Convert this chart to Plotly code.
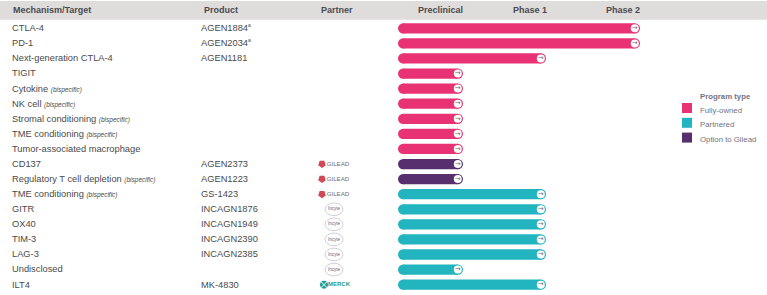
import plotly.graph_objects as go

mechanisms = ["CTLA-4", "PD-1", "Next-generation CTLA-4", "TIGIT", "Cytokine", "NK cell",
              "Stromal conditioning", "TME conditioning", "Tumor-associated macrophage", "CD137",
              "Regulatory T cell depletion", "TME conditioning", "GITR", "OX40", "TIM-3", "LAG-3",
              "Undisclosed", "ILT4"]
bispecific = [False, False, False, False, True, True, True, True, False, False,
              True, True, False, False, False, False, False, False]
products = ["AGEN1884", "AGEN2034", "AGEN1181", "", "", "", "", "", "",
            "AGEN2373", "AGEN1223", "GS-1423", "INCAGN1876", "INCAGN1949", "INCAGN2390",
            "INCAGN2385", "", "MK-4830"]
footnoted = ["AGEN1884", "AGEN2034"]
partners = ["", "", "", "", "", "", "", "", "", "GILEAD", "GILEAD", "GILEAD", "Incyte", "Incyte",
            "Incyte", "Incyte", "Incyte", "MERCK"]
program_types = ["Fully-owned"] * 9 + ["Option to Gilead"] * 2 + ["Partnered"] * 7
progress = [242, 242, 148, 65, 65, 65, 65, 65, 65, 65, 65, 148, 148, 148, 148, 148, 65, 148]
legend_order = ["Fully-owned", "Partnered", "Option to Gilead"]
colors = {"Fully-owned": "#E83274", "Partnered": "#22B5BF", "Option to Gilead": "#572F6E"}

W, H = 767, 295
X0 = 398          # pixel where progress = 0
ROW0, ROWH = 28.3, 15.08
BAR_W = 0.68
CAP = BAR_W * ROWH / 2
INK, HEAD, LEG = "#4a4a4a", "#4a4a52", "#73737f"
FONT = "Liberation Sans"
TEXT_DY = 0.04


def px(v):
    return v - X0


rows = list(range(len(mechanisms)))
fig = go.Figure()

# Bars: straight body plus round ends
for t in legend_order:
    idx = [i for i in rows if program_types[i] == t]
    fig.add_trace(go.Bar(
        orientation="h", x=[progress[i] - 2 * CAP for i in idx], base=[CAP] * len(idx), y=idx,
        name=t, width=BAR_W, marker=dict(color=colors[t], line=dict(width=0)), showlegend=False,
    ))
    fig.add_trace(go.Scatter(
        x=[CAP] * len(idx) + [progress[i] - CAP for i in idx], y=idx + idx, mode="markers",
        showlegend=False, marker=dict(symbol="circle", size=2 * CAP, color=colors[t], line=dict(width=0)),
    ))
    fig.add_trace(go.Scatter(
        x=[progress[i] - 5.2 for i in idx], y=idx, mode="markers", showlegend=False,
        marker=dict(symbol="circle", size=8, color="white", line=dict(width=0)),
    ))
    fig.add_trace(go.Scatter(
        x=[progress[i] - 5.2 for i in idx], y=idx, mode="text", showlegend=False,
        text=["→"] * len(idx), textposition="middle center",
        textfont=dict(family="DejaVu Sans", size=7, color="#6b6b6b"),
    ))

# Table columns
labels = [m + (' <i><span style="font-size:6.5px">(bispecific)</span></i>' if b else "")
          for m, b in zip(mechanisms, bispecific)]
fig.add_trace(go.Scatter(
    x=[px(12)] * len(rows), y=[r + TEXT_DY for r in rows], mode="text", text=labels,
    textposition="middle right", textfont=dict(family=FONT, size=9.3, color=INK),
    showlegend=False, cliponaxis=False,
))
prod_rows = [i for i in rows if products[i]]
prod_text = [products[i] + ('<sup><span style="font-size:5px">a</span></sup>' if products[i] in footnoted else "")
             for i in prod_rows]
fig.add_trace(go.Scatter(
    x=[px(201)] * len(prod_rows), y=[r + TEXT_DY for r in prod_rows], mode="text", text=prod_text,
    textposition="middle right", textfont=dict(family=FONT, size=9.3, color=INK),
    showlegend=False, cliponaxis=False,
))

# Partner marks
gilead = [i for i in rows if partners[i] == "GILEAD"]
incyte = [i for i in rows if partners[i] == "Incyte"]
merck = [i for i in rows if partners[i] == "MERCK"]
fig.add_trace(go.Scatter(
    x=[px(322)] * len(gilead), y=gilead, mode="markers", showlegend=False,
    marker=dict(symbol="pentagon", angle=180, size=8, color="#CF4A55"),
))
fig.add_trace(go.Scatter(
    x=[px(338)] * len(gilead), y=gilead, mode="text", text=["GILEAD"] * len(gilead),
    textposition="middle center", showlegend=False,
    textfont=dict(family=FONT, size=6.2, color="#6f6f75"),
))
fig.add_trace(go.Scatter(
    x=[px(334)] * len(incyte), y=incyte, mode="text", text=["Incyte"] * len(incyte),
    textposition="middle center", showlegend=False,
    textfont=dict(family=FONT, size=4.5, color="#6a6078"),
))
fig.add_trace(go.Scatter(
    x=[px(324)] * len(merck), y=merck, mode="markers", showlegend=False,
    marker=dict(symbol="circle-x", size=9, color="#1E9E96", line=dict(width=1, color="white")),
))
fig.add_trace(go.Scatter(
    x=[px(339)] * len(merck), y=merck, mode="text", text=["<b>MERCK</b>"] * len(merck),
    textposition="middle center", showlegend=False,
    textfont=dict(family=FONT, size=6, color="#2A9C95"),
))

annotations = []
for txt, x, anchor in [("Mechanism/Target", 10.5, "left"), ("Product", 201.5, "left"),
                       ("Partner", 336.5, "center"), ("Preclinical", 440, "center"),
                       ("Phase 1", 530, "center"), ("Phase 2", 622.5, "center")]:
    annotations.append(dict(
        text=f"<b>{txt}</b>", x=x / W, y=1 - 10.5 / H, xref="paper", yref="paper",
        xanchor=anchor, yanchor="middle", showarrow=False,
        font=dict(family=FONT, size=9, color=HEAD),
    ))
annotations.append(dict(
    text="<b>Program type</b>", x=698 / W, y=1 - 96 / H, xref="paper", yref="paper",
    xanchor="left", yanchor="middle", showarrow=False,
    font=dict(family=FONT, size=7.8, color=LEG),
))
shapes = [
    dict(type="rect", xref="paper", yref="paper", x0=0, x1=1, y0=1 - 19.5 / H, y1=1 - 19 / H,
         fillcolor="#CFCDCB", line=dict(width=0), layer="below"),
    dict(type="rect", xref="paper", yref="paper", x0=0, x1=1, y0=1 - 19 / H, y1=1 - 1 / H,
         fillcolor="#DFDDDB", line=dict(width=0), layer="below"),
]
for r in incyte:
    shapes.append(dict(type="circle", xref="x", yref="y", x0=px(325), x1=px(343), y0=r - 0.42, y1=r + 0.42,
                       fillcolor="rgba(0,0,0,0)", line=dict(width=0.8, color="#C6C2D0"), layer="below"))
for i, t in enumerate(legend_order):
    top = 103 + 14.8 * i
    shapes.append(dict(type="rect", xref="paper", yref="paper", x0=682 / W, x1=692 / W,
                       y0=1 - (top + 10) / H, y1=1 - top / H, fillcolor=colors[t], line=dict(width=0)))
    annotations.append(dict(
        text=t, x=698 / W, y=1 - (top + 7) / H, xref="paper", yref="paper",
        xanchor="left", yanchor="middle", showarrow=False,
        font=dict(family=FONT, size=7.8, color=LEG),
    ))

fig.update_layout(
    width=W, height=H, autosize=False, margin=dict(l=0, r=0, t=0, b=0),
    paper_bgcolor="white", plot_bgcolor="rgba(0,0,0,0)",
    barmode="overlay", shapes=shapes, annotations=annotations,
    xaxis=dict(range=[-X0, W - X0], domain=[0, 1], visible=False, fixedrange=True),
    yaxis=dict(range=[(H - ROW0) / ROWH, -ROW0 / ROWH], domain=[0, 1], visible=False, fixedrange=True),
)
fig.write_html("out.html", config={"displayModeBar": False},
               post_script="document.body.style.margin='0';")
